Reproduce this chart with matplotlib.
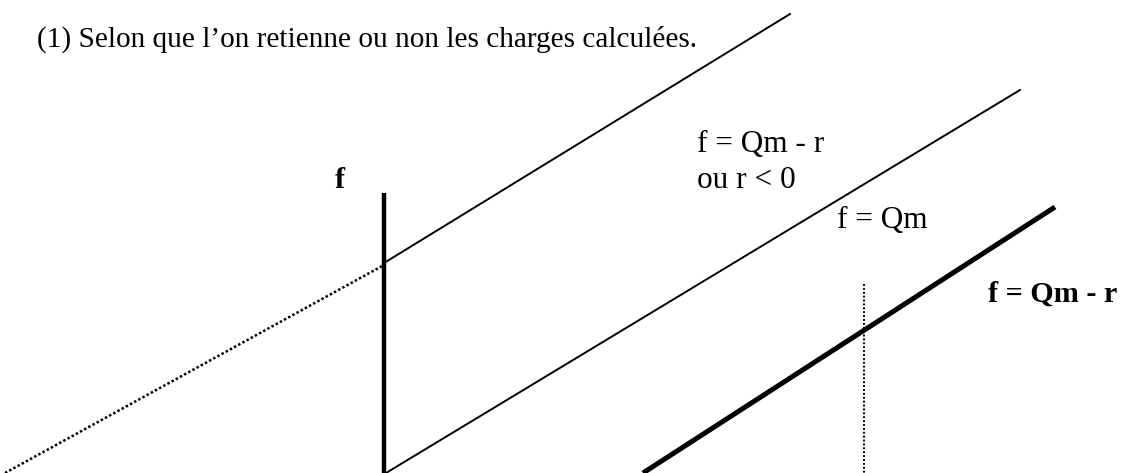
import matplotlib.pyplot as plt

AXE_F_X = [384, 384]
AXE_F_Y = [193, 473]

DROITE_HAUTE_X = [384, 790]
DROITE_HAUTE_Y = [263, 14]

PROLONGEMENT_X = [5, 384]
PROLONGEMENT_Y = [473, 265]

DROITE_QM_X = [386, 1020]
DROITE_QM_Y = [473, 90]

DROITE_QM_R_X = [643, 1055]
DROITE_QM_R_Y = [473, 207]

REPERE_X = [864, 864]
REPERE_Y = [284, 473]

NOTE = "(1) Selon que l\u2019on retienne ou non les charges calcul\u00e9es."
LIBELLES = ["f = Qm - r", "ou r < 0", "f = Qm"]
LIBELLES_GRAS = ["f", "f = Qm - r"]


def main() -> None:
    plt.rcParams["font.family"] = ["Liberation Serif", "DejaVu Serif"]

    fig = plt.figure(figsize=(11.27, 4.73), dpi=100)
    ax = fig.add_axes([0, 0, 1, 1])
    ax.set_xlim(0, 1127)
    ax.set_ylim(473, 0)
    ax.axis("off")

    ax.plot(AXE_F_X, AXE_F_Y, color="black", linewidth=3.2, solid_capstyle="butt")
    ax.plot(DROITE_HAUTE_X, DROITE_HAUTE_Y, color="black", linewidth=1.4)
    ax.plot(PROLONGEMENT_X, PROLONGEMENT_Y, color="black", linewidth=1.8,
            linestyle=(0, (1, 0.9)))
    ax.plot(DROITE_QM_X, DROITE_QM_Y, color="black", linewidth=1.4)
    ax.plot(DROITE_QM_R_X, DROITE_QM_R_Y, color="black", linewidth=3.6,
            solid_capstyle="butt")
    ax.plot(REPERE_X, REPERE_Y, color="black", linewidth=1.4,
            linestyle=(0, (1, 1)))

    ax.text(37, 47, NOTE, fontsize=21.1, va="baseline", ha="left")
    ax.text(697, 152, LIBELLES[0], fontsize=22.5, va="baseline", ha="left")
    ax.text(697, 188, LIBELLES[1], fontsize=22.5, va="baseline", ha="left")
    ax.text(837, 228, LIBELLES[2], fontsize=22.5, va="baseline", ha="left")
    ax.text(335, 188, LIBELLES_GRAS[0], fontsize=21.7, va="baseline",
            ha="left", fontweight="bold")
    ax.text(988, 302, LIBELLES_GRAS[1], fontsize=21.7, va="baseline",
            ha="left", fontweight="bold")

    fig.savefig("out.png", dpi=100)
    plt.close(fig)


if __name__ == "__main__":
    main()
